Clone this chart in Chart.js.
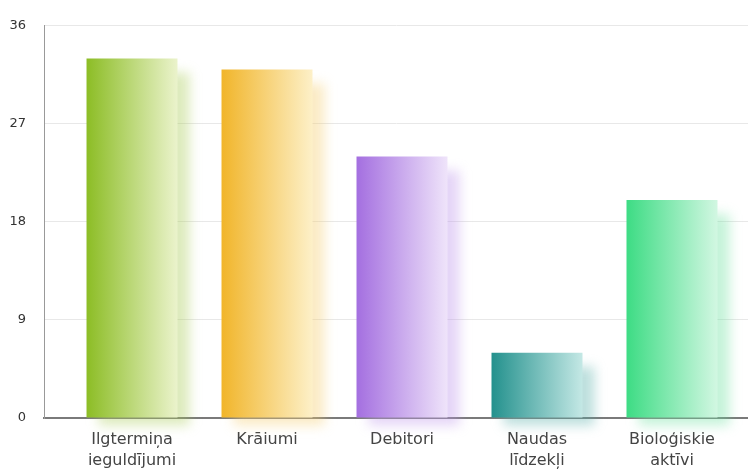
<!DOCTYPE html>
<html>
<head>
<meta charset="utf-8">
<script src="https://cdn.jsdelivr.net/npm/chart.js@4"></script>
<style>
html,body{margin:0;padding:0;background:#fff;}
#wrap{width:748px;height:473px;}
</style>
</head>
<body>
<div id="wrap"><canvas id="c" width="748" height="473"></canvas></div>
<script>
const categories = [["Ilgtermiņa","ieguldījumi"],"Krāiumi","Debitori",["Naudas","līdzekļi"],["Bioloģiskie","aktīvi"]];
const values = [33, 32, 24, 6, 20];
const yTicks = [0, 9, 18, 27, 36];
const darkColors = ["#8cbd25","#f1b52a","#a46fe0","#23918d","#3ddc84"];
const lightColors = ["#ebf3cc","#fdf0c8","#efe4fa","#c4e8e5","#d2f7e2"];
const shadowColors = ["rgba(170,205,90,0.4)","rgba(245,205,110,0.4)","rgba(190,150,235,0.4)","rgba(90,175,170,0.4)","rgba(110,225,160,0.4)"];

const shadowPlugin = {
  id: 'barShadow',
  beforeDatasetsDraw(chart) {
    const ctx = chart.ctx;
    const meta = chart.getDatasetMeta(0);
    meta.data.forEach((el, i) => {
      const w = el.width;
      ctx.save();
      ctx.filter = 'blur(6px)';
      ctx.fillStyle = shadowColors[i];
      ctx.fillRect(el.x - w/2 + 12, el.y + 14, w, el.base - el.y - 6);
      ctx.restore();
      const g = ctx.createLinearGradient(el.x - w/2, 0, el.x + w/2, 0);
      g.addColorStop(0, darkColors[i]);
      g.addColorStop(1, lightColors[i]);
      el.options.backgroundColor = g;
    });
  }
};

new Chart(document.getElementById('c'), {
  type: 'bar',
  data: {
    datasets: [{
      data: values.map((v, i) => ({x: i, y: v})),
      barPercentage: 0.674,
      categoryPercentage: 1,
      borderWidth: 0,
      backgroundColor: darkColors
    }]
  },
  options: {
    responsive: false,
    animation: false,
    layout: { padding: { top: 22, right: 0, left: 0, bottom: 0 } },
    plugins: { legend: { display: false }, tooltip: { enabled: false }, title: { display: false } },
    scales: {
      x: {
        type: 'linear',
        offset: false,
        min: -0.652,
        max: 4.563,
        afterBuildTicks(s) { s.ticks = categories.map((_, i) => ({ value: i })); },
        afterFit(s) { s.height = 55; },
        grid: { display: false, drawTicks: false, offset: false },
        border: { color: '#7a7a7a', width: 2 },
        ticks: {
          autoSkip: false,
          maxRotation: 0,
          padding: 11,
          color: '#444',
          font: { family: 'DejaVu Sans', size: 16, lineHeight: 1.32 },
          callback(v) { return categories[v]; }
        }
      },
      y: {
        min: 0,
        max: 36,
        afterBuildTicks(s) { s.ticks = yTicks.map(v => ({ value: v })); },
        afterFit(s) { s.width = 44; },
        grid: { color: '#e8e8e8', drawTicks: false },
        border: { color: '#999', width: 1 },
        ticks: {
          padding: 18,
          color: '#333',
          font: { family: 'DejaVu Sans', size: 13 }
        }
      }
    }
  },
  plugins: [shadowPlugin]
});
</script>
</body>
</html>
